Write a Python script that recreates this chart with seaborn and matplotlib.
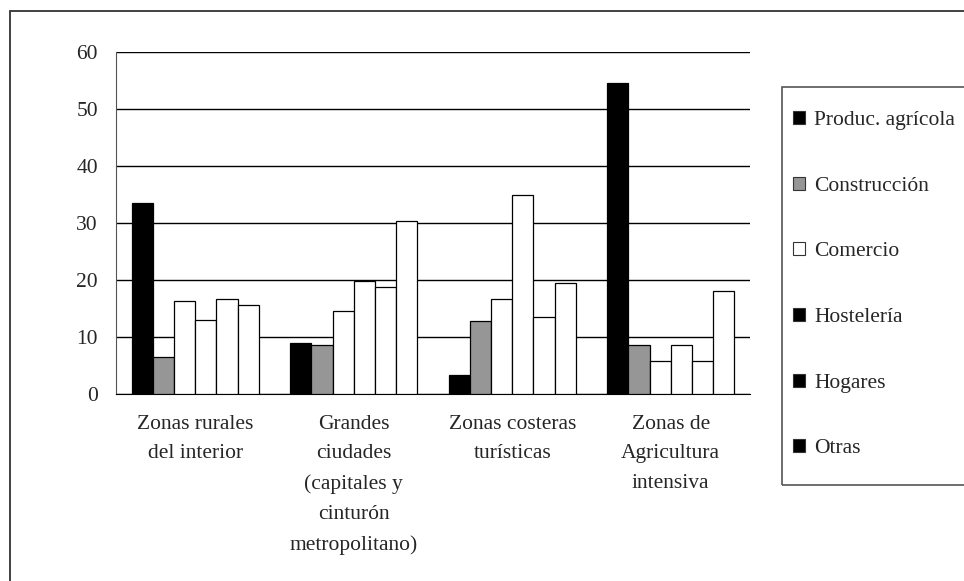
import pandas as pd
import matplotlib
matplotlib.use('Agg')
import matplotlib.pyplot as plt
import seaborn as sns
from matplotlib.patches import Rectangle, Patch

zonas = ['Zonas rurales\ndel interior',
         'Grandes\nciudades\n(capitales y\ncinturón\nmetropolitano)',
         'Zonas costeras\nturísticas',
         'Zonas de\nAgricultura\nintensiva']
sectores = ['Produc. agrícola', 'Construcción', 'Comercio', 'Hostelería', 'Hogares', 'Otras']

produc = [33.4, 8.9, 3.3, 54.5]
construccion = [6.4, 8.5, 12.7, 8.5]
comercio = [16.2, 14.5, 16.6, 5.7]
hosteleria = [13.0, 19.7, 34.9, 8.5]
hogares = [16.6, 18.7, 13.4, 5.7]
otras = [15.5, 30.3, 19.4, 18.0]

bar_colors = ['#000000', '#969696', '#ffffff', '#ffffff', '#ffffff', '#ffffff']
legend_colors = ['#000000', '#969696', '#ffffff', '#000000', '#000000', '#000000']

series = [produc, construccion, comercio, hosteleria, hogares, otras]
rows = []
for s, vals in zip(sectores, series):
    for z, v in zip(zonas, vals):
        rows.append({'zona': z, 'sector': s, 'valor': v})
df = pd.DataFrame(rows)

sns.set_style('white')
plt.rcParams['font.family'] = ['Liberation Serif', 'DejaVu Serif']
fs = 15.5

W, H = 964, 581
fig = plt.figure(figsize=(W / 100, H / 100), dpi=100)
ax = fig.add_axes([116 / W, 1 - 393.7 / H, (750 - 116) / W, (393.7 - 51.7) / H])

sns.barplot(data=df, x='zona', y='valor', hue='sector', order=zonas, hue_order=sectores,
            palette=dict(zip(sectores, bar_colors)), edgecolor='black', linewidth=0.9,
            width=0.8, ax=ax, legend=False, zorder=3)

ax.set_ylim(0, 60)
ax.set_yticks(range(0, 61, 10))
ax.set_xlim(-0.5, len(zonas) - 0.5)
ax.yaxis.grid(True, color='black', linewidth=1)
ax.set_axisbelow(True)
ax.set_xlabel('')
ax.set_ylabel('')
for side in ['top', 'right']:
    ax.spines[side].set_visible(False)
ax.spines['left'].set_color('#555555')
ax.spines['bottom'].set_color('black')

ax.set_xticks([i - 0.5 for i in range(len(zonas) + 1)], minor=True)
ax.tick_params(axis='x', which='minor', length=5, width=1, color='#555555', direction='out')
ax.tick_params(axis='x', which='major', length=0, pad=15, labelsize=fs)
ax.tick_params(axis='y', length=4, width=1, color='#555555', direction='out', pad=9, labelsize=fs)
for lab in ax.get_xticklabels():
    lab.set_linespacing(1.76)

# outer chart frame
fig.patches.append(Rectangle((10 / W, -0.1), 1.2, 1 - 11 / H + 0.1, transform=fig.transFigure,
                             fill=False, edgecolor='#333333', linewidth=1.3))
# legend box
fig.patches.append(Rectangle((782 / W, 1 - 485 / H), 0.3, (485 - 87) / H, transform=fig.transFigure,
                             fill=False, edgecolor='#555555', linewidth=1.2))

handles = [Patch(facecolor=c, edgecolor='#333333', linewidth=0.8) for c in legend_colors]
fig.legend(handles, sectores, loc='upper left', bbox_to_anchor=(793 / W, 1 - 111 / H),
           frameon=False, fontsize=fs, labelspacing=2.16, handlelength=0.56, handleheight=0.56,
           handletextpad=0.42, borderpad=0, borderaxespad=0)

fig.savefig('out.png', dpi=100)
